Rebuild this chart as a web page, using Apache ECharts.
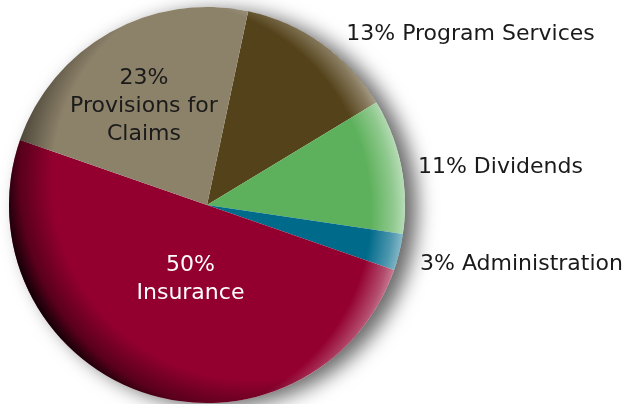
<!DOCTYPE html>
<html>
<head>
<meta charset="utf-8">
<style>
  html, body { margin: 0; padding: 0; background: #fff; }
  #chart { width: 631px; height: 404px; }
</style>
<script src="https://cdn.jsdelivr.net/npm/echarts@6/dist/echarts.min.js"></script>
</head>
<body>
<div id="chart"></div>
<script>
// slices, clockwise from the top
var categories = ['Program Services', 'Dividends', 'Administration', 'Insurance', 'Provisions for Claims'];
var shares = [13, 11, 3, 50, 23];
var sliceColors = ['#54421a', '#5eb15c', '#006a8b', '#93002f', '#8c8169'];

var cx = 207, cy = 205, R = 198;

var chart = echarts.init(document.getElementById('chart'));

// per slice label tweaks
var labelOpts = {
  'Program Services': { labelLine: { length: 20, length2: 8 }, shift: [0, 7] },
  'Dividends': { shift: [-4, 3] },
  'Administration': { shift: [0, 10] },
  'Insurance': { label: { position: 'inside', color: '#fff', offset: [17, -22], formatter: '{d|{c}%}\n{b|Insurance}' } },
  'Provisions for Claims': { label: { position: 'inside', color: '#1a1a1a', offset: [-13, -10], formatter: '{d|{c}%}\n{b|Provisions for}\n{b|Claims}' } }
};

var pieData = categories.map(function (name, i) {
  var item = {
    name: name,
    value: shares[i],
    itemStyle: { color: sliceColors[i] }
  };
  var extra = labelOpts[name];
  if (extra) {
    if (extra.label) item.label = extra.label;
    if (extra.labelLine) item.labelLine = extra.labelLine;
  }
  return item;
});

function radial(x, y, r, stops) {
  return {
    type: 'radial', x: x, y: y, r: r, global: true,
    colorStops: stops
  };
}

var option = {
  backgroundColor: '#fff',
  animation: false,
  textStyle: { fontFamily: 'DejaVu Sans' },
  series: [
    {
      // base disc, carries the drop shadow
      type: 'pie',
      center: [cx, cy],
      radius: R,
      silent: true,
      z: 1,
      label: { show: false },
      labelLine: { show: false },
      itemStyle: {
        color: '#fff',
        shadowBlur: 20,
        shadowOffsetX: 12,
        shadowOffsetY: 4,
        shadowColor: 'rgba(0,0,0,0.6)'
      },
      data: [{ value: 1 }]
    },
    {
      type: 'pie',
      center: [cx, cy],
      radius: R,
      startAngle: 78,
      clockwise: true,
      z: 2,
      label: {
        show: true,
        position: 'outside',
        color: '#1a1a1a',
        fontSize: 22,
        lineHeight: 28,
        overflow: 'none',
        formatter: '{c}% {b}',
        rich: {
          d: { fontSize: 22, lineHeight: 28 },
          b: { fontSize: 22, lineHeight: 28 }
        }
      },
      labelLine: { show: false, length: 8, length2: 8 },
      labelLayout: function (p) {
        var extra = labelOpts[categories[p.dataIndex]];
        if (extra && extra.shift) return { dx: extra.shift[0], dy: extra.shift[1] };
        return {};
      },
      itemStyle: { borderWidth: 0 },
      data: pieData
    },
    {
      // dark rim toward the lower left
      type: 'pie',
      center: [cx, cy],
      radius: R,
      silent: true,
      z: 3,
      label: { show: false },
      labelLine: { show: false },
      itemStyle: {
        color: radial(cx + 45, cy - 25, 250, [
          { offset: 0, color: 'rgba(0,0,0,0)' },
          { offset: 0.8, color: 'rgba(0,0,0,0)' },
          { offset: 0.93, color: 'rgba(0,0,0,0.4)' },
          { offset: 1, color: 'rgba(0,0,0,0.9)' }
        ])
      },
      data: [{ value: 1 }]
    },
    {
      // light rim toward the right
      type: 'pie',
      center: [cx, cy],
      radius: R,
      silent: true,
      z: 4,
      label: { show: false },
      labelLine: { show: false },
      itemStyle: {
        color: radial(cx - 45, cy + 5, 243, [
          { offset: 0, color: 'rgba(255,255,255,0)' },
          { offset: 0.86, color: 'rgba(255,255,255,0)' },
          { offset: 0.95, color: 'rgba(255,255,255,0.3)' },
          { offset: 1, color: 'rgba(255,255,255,0.55)' }
        ])
      },
      data: [{ value: 1 }]
    }
  ]
};

chart.setOption(option);
</script>
</body>
</html>
